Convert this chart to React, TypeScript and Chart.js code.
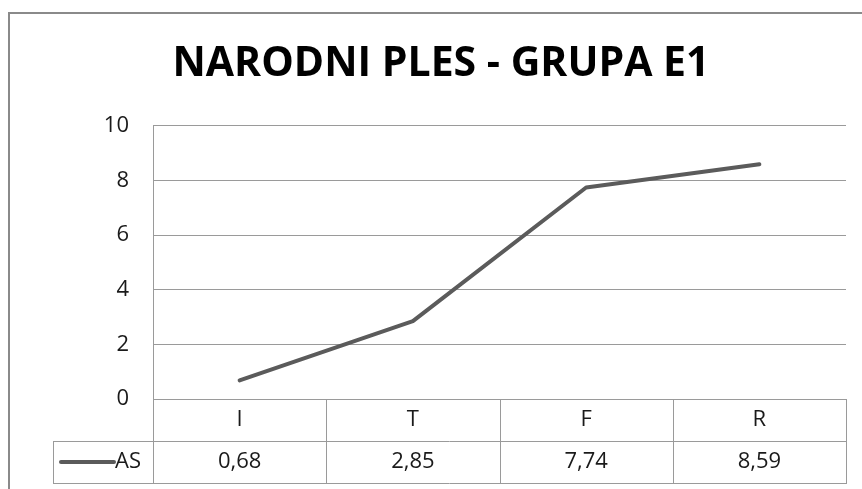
import React, { useEffect, useRef } from "react";
import { Chart, registerables } from "chart.js";

Chart.register(...registerables);

const title = "NARODNI PLES - GRUPA E1";
const categories = ["I", "T", "F", "R"];
const seriesName = "AS";
const seriesValues = [0.68, 2.85, 7.74, 8.59];
const yTicks = [0, 2, 4, 6, 8, 10];

const FONT = "'Open Sans', sans-serif";
const GRID = "#9a9a9a";
const LINE = "#5b5b5b";
const TEXT = "#1a1a1a";
const ROW_H = 42;
const LEGEND_LEFT = 53;

const tablePlugin = {
  id: "dataTable",
  beforeDraw(chart: any) {
    const { ctx, width, height } = chart;
    ctx.save();
    ctx.strokeStyle = "#8a8a8a";
    ctx.lineWidth = 2;
    ctx.beginPath();
    ctx.moveTo(9, height);
    ctx.lineTo(9, 13);
    ctx.lineTo(width, 13);
    ctx.stroke();
    ctx.restore();
  },
  afterDraw(chart: any) {
    const { ctx, chartArea: ca, scales } = chart;
    const x = scales.x;
    const top = ca.bottom;
    const r1 = top + ROW_H;
    const r2 = top + 2 * ROW_H;
    ctx.save();
    ctx.strokeStyle = GRID;
    ctx.lineWidth = 1;
    ctx.beginPath();
    ctx.moveTo(LEGEND_LEFT, Math.round(r1) + 0.5);
    ctx.lineTo(ca.right, Math.round(r1) + 0.5);
    ctx.moveTo(LEGEND_LEFT, Math.round(r2) + 0.5);
    ctx.lineTo(ca.right, Math.round(r2) + 0.5);
    const bounds: number[] = [ca.left];
    for (let i = 0; i < categories.length - 1; i++) {
      bounds.push((x.getPixelForValue(i) + x.getPixelForValue(i + 1)) / 2);
    }
    bounds.push(ca.right);
    bounds.forEach((bx) => {
      const px = Math.round(bx) + 0.5;
      ctx.moveTo(px, top);
      ctx.lineTo(px, Math.round(r2) + 1);
    });
    ctx.moveTo(LEGEND_LEFT + 0.5, r1);
    ctx.lineTo(LEGEND_LEFT + 0.5, Math.round(r2) + 1);
    ctx.stroke();

    ctx.fillStyle = TEXT;
    ctx.font = `22px ${FONT}`;
    ctx.textAlign = "center";
    ctx.textBaseline = "middle";
    categories.forEach((c, i) => {
      const cx = x.getPixelForValue(i);
      ctx.fillText(c, cx, top + ROW_H / 2);
      ctx.fillText(seriesValues[i].toFixed(2).replace(".", ","), cx, r1 + ROW_H / 2);
    });

    const ly = r1 + ROW_H / 2;
    ctx.strokeStyle = LINE;
    ctx.lineWidth = 4;
    ctx.lineCap = "round";
    ctx.beginPath();
    ctx.moveTo(LEGEND_LEFT + 8, ly);
    ctx.lineTo(LEGEND_LEFT + 61, ly);
    ctx.stroke();
    ctx.textAlign = "left";
    ctx.fillText(seriesName, LEGEND_LEFT + 62, ly);
    ctx.restore();
  },
};

export default function App() {
  const ref = useRef<HTMLCanvasElement>(null);
  useEffect(() => {
    const chart = new Chart(ref.current!, {
      type: "line",
      data: {
        labels: categories,
        datasets: [
          {
            label: seriesName,
            data: seriesValues,
            borderColor: LINE,
            backgroundColor: LINE,
            borderWidth: 4,
            pointRadius: 0,
            tension: 0,
            borderCapStyle: "round",
            borderJoinStyle: "round",
          },
        ],
      },
      options: {
        responsive: false,
        animation: false,
        devicePixelRatio: 1,
        layout: { padding: { left: 36, right: 16, top: 0, bottom: 90 } },
        plugins: {
          legend: { display: false },
          tooltip: { enabled: false },
          title: {
            display: true,
            text: title,
            color: "#000",
            font: { family: FONT, size: 41, weight: "bold", lineHeight: 1.2 },
            padding: { top: 40, bottom: 36.5 },
          },
        },
        scales: {
          x: {
            type: "category",
            display: false,
            offset: true,
          },
          y: {
            min: 0,
            max: 10,
            afterBuildTicks: (s: any) => {
              s.ticks = yTicks.map((v) => ({ value: v }));
            },
            afterFit: (s: any) => {
              s.width = 117;
            },
            ticks: {
              color: TEXT,
              font: { family: FONT, size: 22 },
              padding: 24,
            },
            grid: { color: GRID, drawTicks: false, lineWidth: 1 },
            border: { display: true, color: GRID, width: 1 },
          },
        },
      },
      plugins: [tablePlugin],
    });
    return () => chart.destroy();
  }, []);
  return (
    <div style={{ position: "fixed", left: 0, top: 0, width: 862, height: 489, overflow: "hidden", background: "#fff" }}>
      <canvas ref={ref} width={862} height={489} style={{ display: "block" }} />
    </div>
  );
}
